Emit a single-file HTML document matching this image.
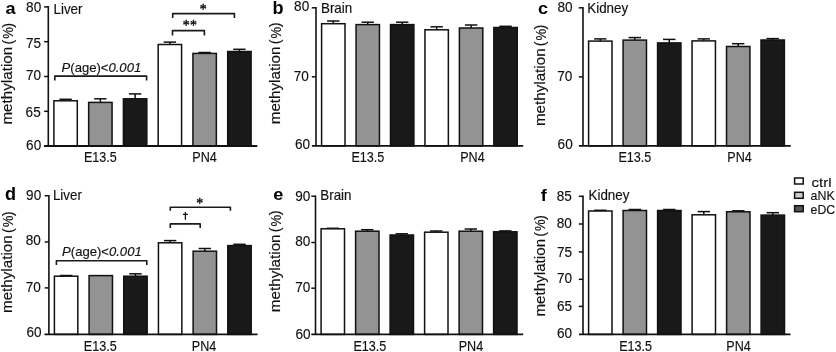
<!DOCTYPE html><html><head><meta charset="utf-8"><style>
html,body{margin:0;padding:0;background:#fff;width:836px;height:352px;overflow:hidden}
svg{display:block;will-change:transform}
text{font-family:"Liberation Sans", sans-serif;fill:#111;stroke:#111;stroke-width:0.15px}
.pl{stroke:none}
.tk{font-size:14.00px;text-anchor:end}
.tt{font-size:13.80px}
.gl{font-size:14.00px;text-anchor:middle}
.pl{font-size:17.40px;font-weight:bold;fill:#000}
.yl{font-size:14.80px;text-anchor:middle}
.st{font-size:13px;text-anchor:middle}
</style></head><body>
<svg width="836" height="352" viewBox="0 0 836 352">
<line x1="65.60" y1="99.30" x2="65.60" y2="100.80" stroke="#111" stroke-width="1.5"/>
<line x1="59.40" y1="99.30" x2="71.80" y2="99.30" stroke="#111" stroke-width="1.5"/>
<rect x="53.90" y="100.80" width="23.40" height="45.20" fill="#ffffff" stroke="#111" stroke-width="1.50"/>
<line x1="100.36" y1="98.80" x2="100.36" y2="102.40" stroke="#111" stroke-width="1.5"/>
<line x1="94.16" y1="98.80" x2="106.56" y2="98.80" stroke="#111" stroke-width="1.5"/>
<rect x="88.66" y="102.40" width="23.40" height="43.60" fill="#939393" stroke="#111" stroke-width="1.50"/>
<line x1="135.12" y1="93.90" x2="135.12" y2="98.80" stroke="#111" stroke-width="1.5"/>
<line x1="128.92" y1="93.90" x2="141.32" y2="93.90" stroke="#111" stroke-width="1.5"/>
<rect x="123.42" y="98.80" width="23.40" height="47.20" fill="#191919" stroke="#111" stroke-width="1.50"/>
<line x1="169.88" y1="42.10" x2="169.88" y2="44.50" stroke="#111" stroke-width="1.5"/>
<line x1="163.68" y1="42.10" x2="176.08" y2="42.10" stroke="#111" stroke-width="1.5"/>
<rect x="158.18" y="44.50" width="23.40" height="101.50" fill="#ffffff" stroke="#111" stroke-width="1.50"/>
<line x1="204.64" y1="52.50" x2="204.64" y2="53.40" stroke="#111" stroke-width="1.5"/>
<line x1="198.44" y1="52.50" x2="210.84" y2="52.50" stroke="#111" stroke-width="1.5"/>
<rect x="192.94" y="53.40" width="23.40" height="92.60" fill="#939393" stroke="#111" stroke-width="1.50"/>
<line x1="239.40" y1="49.30" x2="239.40" y2="51.50" stroke="#111" stroke-width="1.5"/>
<line x1="233.20" y1="49.30" x2="245.60" y2="49.30" stroke="#111" stroke-width="1.5"/>
<rect x="227.70" y="51.50" width="23.40" height="94.50" fill="#191919" stroke="#111" stroke-width="1.50"/>
<line x1="48.30" y1="6.15" x2="48.30" y2="146.00" stroke="#111" stroke-width="1.60"/>
<line x1="44.10" y1="6.90" x2="48.30" y2="6.90" stroke="#111" stroke-width="1.5"/>
<text class="tk" transform="translate(41.20 12.10) scale(0.970 1)">80</text>
<line x1="44.10" y1="41.70" x2="48.30" y2="41.70" stroke="#111" stroke-width="1.5"/>
<text class="tk" transform="translate(41.00 47.90) scale(0.970 1)">75</text>
<line x1="44.10" y1="76.50" x2="48.30" y2="76.50" stroke="#111" stroke-width="1.5"/>
<text class="tk" transform="translate(41.00 79.80) scale(0.970 1)">70</text>
<line x1="44.10" y1="111.30" x2="48.30" y2="111.30" stroke="#111" stroke-width="1.5"/>
<text class="tk" transform="translate(40.70 116.50) scale(0.970 1)">65</text>
<text class="tk" transform="translate(41.20 150.10) scale(0.970 1)">60</text>
<line x1="44.00" y1="146.00" x2="257.30" y2="146.00" stroke="#111" stroke-width="1.90"/>
<text class="gl" transform="translate(100.40 162.20) scale(0.900 1)">E13.5</text>
<text class="gl" transform="translate(204.50 162.20) scale(0.900 1)">PN4</text>
<text class="tt" transform="translate(53.50 13.60) scale(0.970 1)">Liver</text>
<text class="pl" transform="translate(5.50 13.60) scale(1.040 1.000)">a</text>
<text style="font-size:14.40px;text-anchor:middle" transform="translate(12.10 85.70) rotate(-90) scale(1.056 1)">methylation</text>
<text style="font-size:14.70px;text-anchor:middle" transform="translate(12.50 42.10) rotate(-90) scale(1.000 1)">(</text>
<text style="font-size:14.50px;text-anchor:middle" transform="translate(12.80 33.00) rotate(-90) scale(0.900 1)">%</text>
<text style="font-size:14.70px;text-anchor:middle" transform="translate(12.50 25.30) rotate(-90) scale(1.000 1)">)</text>
<line x1="333.30" y1="21.00" x2="333.30" y2="23.70" stroke="#111" stroke-width="1.5"/>
<line x1="327.10" y1="21.00" x2="339.50" y2="21.00" stroke="#111" stroke-width="1.5"/>
<rect x="321.60" y="23.70" width="23.40" height="122.20" fill="#ffffff" stroke="#111" stroke-width="1.50"/>
<line x1="367.75" y1="22.20" x2="367.75" y2="24.60" stroke="#111" stroke-width="1.5"/>
<line x1="361.55" y1="22.20" x2="373.95" y2="22.20" stroke="#111" stroke-width="1.5"/>
<rect x="356.05" y="24.60" width="23.40" height="121.30" fill="#939393" stroke="#111" stroke-width="1.50"/>
<line x1="402.20" y1="22.20" x2="402.20" y2="24.60" stroke="#111" stroke-width="1.5"/>
<line x1="396.00" y1="22.20" x2="408.40" y2="22.20" stroke="#111" stroke-width="1.5"/>
<rect x="390.50" y="24.60" width="23.40" height="121.30" fill="#191919" stroke="#111" stroke-width="1.50"/>
<line x1="436.65" y1="26.80" x2="436.65" y2="29.80" stroke="#111" stroke-width="1.5"/>
<line x1="430.45" y1="26.80" x2="442.85" y2="26.80" stroke="#111" stroke-width="1.5"/>
<rect x="424.95" y="29.80" width="23.40" height="116.10" fill="#ffffff" stroke="#111" stroke-width="1.50"/>
<line x1="471.10" y1="25.00" x2="471.10" y2="28.00" stroke="#111" stroke-width="1.5"/>
<line x1="464.90" y1="25.00" x2="477.30" y2="25.00" stroke="#111" stroke-width="1.5"/>
<rect x="459.40" y="28.00" width="23.40" height="117.90" fill="#939393" stroke="#111" stroke-width="1.50"/>
<line x1="505.55" y1="26.30" x2="505.55" y2="27.50" stroke="#111" stroke-width="1.5"/>
<line x1="499.35" y1="26.30" x2="511.75" y2="26.30" stroke="#111" stroke-width="1.5"/>
<rect x="493.85" y="27.50" width="23.40" height="118.40" fill="#191919" stroke="#111" stroke-width="1.50"/>
<line x1="316.00" y1="7.05" x2="316.00" y2="145.90" stroke="#111" stroke-width="1.60"/>
<line x1="311.80" y1="7.80" x2="316.00" y2="7.80" stroke="#111" stroke-width="1.5"/>
<text class="tk" transform="translate(309.20 11.40) scale(0.970 1)">80</text>
<line x1="311.80" y1="76.80" x2="316.00" y2="76.80" stroke="#111" stroke-width="1.5"/>
<text class="tk" transform="translate(308.90 81.05) scale(0.970 1)">70</text>
<text class="tk" transform="translate(310.10 149.05) scale(0.970 1)">60</text>
<line x1="311.90" y1="145.90" x2="523.20" y2="145.90" stroke="#111" stroke-width="1.90"/>
<text class="gl" transform="translate(367.90 162.20) scale(0.900 1)">E13.5</text>
<text class="gl" transform="translate(472.40 162.20) scale(0.900 1)">PN4</text>
<text class="tt" transform="translate(321.00 13.10) scale(0.970 1)">Brain</text>
<text class="pl" transform="translate(272.60 13.60) scale(1.040 1.070)">b</text>
<text style="font-size:14.40px;text-anchor:middle" transform="translate(279.90 85.42) rotate(-90) scale(1.056 1)">methylation</text>
<text style="font-size:14.70px;text-anchor:middle" transform="translate(280.30 41.70) rotate(-90) scale(1.000 1)">(</text>
<text style="font-size:14.50px;text-anchor:middle" transform="translate(280.60 32.60) rotate(-90) scale(0.900 1)">%</text>
<text style="font-size:14.70px;text-anchor:middle" transform="translate(280.30 24.90) rotate(-90) scale(1.000 1)">)</text>
<line x1="600.30" y1="38.90" x2="600.30" y2="41.10" stroke="#111" stroke-width="1.5"/>
<line x1="594.10" y1="38.90" x2="606.50" y2="38.90" stroke="#111" stroke-width="1.5"/>
<rect x="588.60" y="41.10" width="23.40" height="104.80" fill="#ffffff" stroke="#111" stroke-width="1.50"/>
<line x1="634.78" y1="37.60" x2="634.78" y2="40.10" stroke="#111" stroke-width="1.5"/>
<line x1="628.58" y1="37.60" x2="640.98" y2="37.60" stroke="#111" stroke-width="1.5"/>
<rect x="623.08" y="40.10" width="23.40" height="105.80" fill="#939393" stroke="#111" stroke-width="1.50"/>
<line x1="669.26" y1="39.40" x2="669.26" y2="42.90" stroke="#111" stroke-width="1.5"/>
<line x1="663.06" y1="39.40" x2="675.46" y2="39.40" stroke="#111" stroke-width="1.5"/>
<rect x="657.56" y="42.90" width="23.40" height="103.00" fill="#191919" stroke="#111" stroke-width="1.50"/>
<line x1="703.74" y1="38.90" x2="703.74" y2="40.90" stroke="#111" stroke-width="1.5"/>
<line x1="697.54" y1="38.90" x2="709.94" y2="38.90" stroke="#111" stroke-width="1.5"/>
<rect x="692.04" y="40.90" width="23.40" height="105.00" fill="#ffffff" stroke="#111" stroke-width="1.50"/>
<line x1="738.22" y1="43.70" x2="738.22" y2="46.50" stroke="#111" stroke-width="1.5"/>
<line x1="732.02" y1="43.70" x2="744.42" y2="43.70" stroke="#111" stroke-width="1.5"/>
<rect x="726.52" y="46.50" width="23.40" height="99.40" fill="#939393" stroke="#111" stroke-width="1.50"/>
<line x1="772.70" y1="38.60" x2="772.70" y2="40.00" stroke="#111" stroke-width="1.5"/>
<line x1="766.50" y1="38.60" x2="778.90" y2="38.60" stroke="#111" stroke-width="1.5"/>
<rect x="761.00" y="40.00" width="23.40" height="105.90" fill="#191919" stroke="#111" stroke-width="1.50"/>
<line x1="583.00" y1="7.05" x2="583.00" y2="145.90" stroke="#111" stroke-width="1.60"/>
<line x1="578.80" y1="7.80" x2="583.00" y2="7.80" stroke="#111" stroke-width="1.5"/>
<text class="tk" transform="translate(572.50 12.00) scale(0.970 1)">80</text>
<line x1="578.80" y1="76.90" x2="583.00" y2="76.90" stroke="#111" stroke-width="1.5"/>
<text class="tk" transform="translate(572.30 81.00) scale(0.970 1)">70</text>
<text class="tk" transform="translate(572.70 148.90) scale(0.970 1)">60</text>
<line x1="578.90" y1="145.90" x2="790.80" y2="145.90" stroke="#111" stroke-width="1.90"/>
<text class="gl" transform="translate(634.90 162.20) scale(0.900 1)">E13.5</text>
<text class="gl" transform="translate(739.60 162.20) scale(0.900 1)">PN4</text>
<text class="tt" transform="translate(587.30 12.95) scale(0.970 1)">Kidney</text>
<text class="pl" transform="translate(538.00 13.60) scale(1.040 1.000)">c</text>
<text style="font-size:14.40px;text-anchor:middle" transform="translate(544.80 87.28) rotate(-90) scale(1.056 1)">methylation</text>
<text style="font-size:14.70px;text-anchor:middle" transform="translate(545.20 43.80) rotate(-90) scale(1.000 1)">(</text>
<text style="font-size:14.50px;text-anchor:middle" transform="translate(545.50 34.70) rotate(-90) scale(0.900 1)">%</text>
<text style="font-size:14.70px;text-anchor:middle" transform="translate(545.20 27.00) rotate(-90) scale(1.000 1)">)</text>
<line x1="66.10" y1="275.50" x2="66.10" y2="276.20" stroke="#111" stroke-width="1.5"/>
<line x1="59.90" y1="275.50" x2="72.30" y2="275.50" stroke="#111" stroke-width="1.5"/>
<rect x="54.40" y="276.20" width="23.40" height="58.20" fill="#ffffff" stroke="#111" stroke-width="1.50"/>
<rect x="89.08" y="275.60" width="23.40" height="58.80" fill="#939393" stroke="#111" stroke-width="1.50"/>
<line x1="135.46" y1="273.80" x2="135.46" y2="276.20" stroke="#111" stroke-width="1.5"/>
<line x1="129.26" y1="273.80" x2="141.66" y2="273.80" stroke="#111" stroke-width="1.5"/>
<rect x="123.76" y="276.20" width="23.40" height="58.20" fill="#191919" stroke="#111" stroke-width="1.50"/>
<line x1="170.14" y1="240.60" x2="170.14" y2="242.80" stroke="#111" stroke-width="1.5"/>
<line x1="163.94" y1="240.60" x2="176.34" y2="240.60" stroke="#111" stroke-width="1.5"/>
<rect x="158.44" y="242.80" width="23.40" height="91.60" fill="#ffffff" stroke="#111" stroke-width="1.50"/>
<line x1="204.82" y1="248.50" x2="204.82" y2="251.20" stroke="#111" stroke-width="1.5"/>
<line x1="198.62" y1="248.50" x2="211.02" y2="248.50" stroke="#111" stroke-width="1.5"/>
<rect x="193.12" y="251.20" width="23.40" height="83.20" fill="#939393" stroke="#111" stroke-width="1.50"/>
<line x1="239.50" y1="244.30" x2="239.50" y2="245.60" stroke="#111" stroke-width="1.5"/>
<line x1="233.30" y1="244.30" x2="245.70" y2="244.30" stroke="#111" stroke-width="1.5"/>
<rect x="227.80" y="245.60" width="23.40" height="88.80" fill="#191919" stroke="#111" stroke-width="1.50"/>
<line x1="48.90" y1="194.95" x2="48.90" y2="334.40" stroke="#111" stroke-width="1.60"/>
<line x1="44.70" y1="195.70" x2="48.90" y2="195.70" stroke="#111" stroke-width="1.5"/>
<text class="tk" transform="translate(41.20 200.45) scale(0.970 1)">90</text>
<line x1="44.70" y1="242.00" x2="48.90" y2="242.00" stroke="#111" stroke-width="1.5"/>
<text class="tk" transform="translate(40.90 245.00) scale(0.970 1)">80</text>
<line x1="44.70" y1="287.90" x2="48.90" y2="287.90" stroke="#111" stroke-width="1.5"/>
<text class="tk" transform="translate(40.90 291.50) scale(0.970 1)">70</text>
<text class="tk" transform="translate(41.50 337.00) scale(0.970 1)">60</text>
<line x1="44.50" y1="334.40" x2="257.60" y2="334.40" stroke="#111" stroke-width="1.90"/>
<text class="gl" transform="translate(100.30 350.60) scale(0.900 1)">E13.5</text>
<text class="gl" transform="translate(204.10 350.60) scale(0.900 1)">PN4</text>
<text class="tt" transform="translate(52.90 200.20) scale(0.970 1)">Liver</text>
<text class="pl" transform="translate(4.90 200.40) scale(1.040 1.030)">d</text>
<text style="font-size:14.40px;text-anchor:middle" transform="translate(12.40 274.16) rotate(-90) scale(1.056 1)">methylation</text>
<text style="font-size:14.70px;text-anchor:middle" transform="translate(12.80 230.50) rotate(-90) scale(1.000 1)">(</text>
<text style="font-size:14.50px;text-anchor:middle" transform="translate(13.10 221.40) rotate(-90) scale(0.900 1)">%</text>
<text style="font-size:14.70px;text-anchor:middle" transform="translate(12.80 213.70) rotate(-90) scale(1.000 1)">)</text>
<line x1="332.80" y1="228.30" x2="332.80" y2="228.80" stroke="#111" stroke-width="1.5"/>
<line x1="326.60" y1="228.30" x2="339.00" y2="228.30" stroke="#111" stroke-width="1.5"/>
<rect x="321.10" y="228.80" width="23.40" height="105.60" fill="#ffffff" stroke="#111" stroke-width="1.50"/>
<line x1="367.30" y1="229.70" x2="367.30" y2="231.20" stroke="#111" stroke-width="1.5"/>
<line x1="361.10" y1="229.70" x2="373.50" y2="229.70" stroke="#111" stroke-width="1.5"/>
<rect x="355.60" y="231.20" width="23.40" height="103.20" fill="#939393" stroke="#111" stroke-width="1.50"/>
<line x1="401.80" y1="233.80" x2="401.80" y2="235.00" stroke="#111" stroke-width="1.5"/>
<line x1="395.60" y1="233.80" x2="408.00" y2="233.80" stroke="#111" stroke-width="1.5"/>
<rect x="390.10" y="235.00" width="23.40" height="99.40" fill="#191919" stroke="#111" stroke-width="1.50"/>
<line x1="436.30" y1="231.00" x2="436.30" y2="232.20" stroke="#111" stroke-width="1.5"/>
<line x1="430.10" y1="231.00" x2="442.50" y2="231.00" stroke="#111" stroke-width="1.5"/>
<rect x="424.60" y="232.20" width="23.40" height="102.20" fill="#ffffff" stroke="#111" stroke-width="1.50"/>
<line x1="470.80" y1="229.00" x2="470.80" y2="231.20" stroke="#111" stroke-width="1.5"/>
<line x1="464.60" y1="229.00" x2="477.00" y2="229.00" stroke="#111" stroke-width="1.5"/>
<rect x="459.10" y="231.20" width="23.40" height="103.20" fill="#939393" stroke="#111" stroke-width="1.50"/>
<line x1="505.30" y1="230.90" x2="505.30" y2="231.80" stroke="#111" stroke-width="1.5"/>
<line x1="499.10" y1="230.90" x2="511.50" y2="230.90" stroke="#111" stroke-width="1.5"/>
<rect x="493.60" y="231.80" width="23.40" height="102.60" fill="#191919" stroke="#111" stroke-width="1.50"/>
<line x1="315.50" y1="195.45" x2="315.50" y2="334.40" stroke="#111" stroke-width="1.60"/>
<line x1="311.30" y1="196.20" x2="315.50" y2="196.20" stroke="#111" stroke-width="1.5"/>
<text class="tk" transform="translate(310.30 200.75) scale(0.970 1)">90</text>
<line x1="311.30" y1="242.50" x2="315.50" y2="242.50" stroke="#111" stroke-width="1.5"/>
<text class="tk" transform="translate(310.30 245.70) scale(0.970 1)">80</text>
<line x1="311.30" y1="288.20" x2="315.50" y2="288.20" stroke="#111" stroke-width="1.5"/>
<text class="tk" transform="translate(310.30 292.15) scale(0.970 1)">70</text>
<text class="tk" transform="translate(310.60 338.75) scale(0.970 1)">60</text>
<line x1="311.30" y1="334.40" x2="523.20" y2="334.40" stroke="#111" stroke-width="1.90"/>
<text class="gl" transform="translate(369.90 350.60) scale(0.900 1)">E13.5</text>
<text class="gl" transform="translate(470.90 350.60) scale(0.900 1)">PN4</text>
<text class="tt" transform="translate(320.30 200.40) scale(0.970 1)">Brain</text>
<text class="pl" transform="translate(273.20 199.90) scale(1.040 1.000)">e</text>
<text style="font-size:14.40px;text-anchor:middle" transform="translate(280.00 273.30) rotate(-90) scale(1.056 1)">methylation</text>
<text style="font-size:14.70px;text-anchor:middle" transform="translate(280.40 229.70) rotate(-90) scale(1.000 1)">(</text>
<text style="font-size:14.50px;text-anchor:middle" transform="translate(280.70 220.60) rotate(-90) scale(0.900 1)">%</text>
<text style="font-size:14.70px;text-anchor:middle" transform="translate(280.40 212.90) rotate(-90) scale(1.000 1)">)</text>
<line x1="600.30" y1="210.30" x2="600.30" y2="211.00" stroke="#111" stroke-width="1.5"/>
<line x1="594.10" y1="210.30" x2="606.50" y2="210.30" stroke="#111" stroke-width="1.5"/>
<rect x="588.60" y="211.00" width="23.40" height="123.40" fill="#ffffff" stroke="#111" stroke-width="1.50"/>
<line x1="634.80" y1="209.50" x2="634.80" y2="210.50" stroke="#111" stroke-width="1.5"/>
<line x1="628.60" y1="209.50" x2="641.00" y2="209.50" stroke="#111" stroke-width="1.5"/>
<rect x="623.10" y="210.50" width="23.40" height="123.90" fill="#939393" stroke="#111" stroke-width="1.50"/>
<line x1="669.30" y1="209.50" x2="669.30" y2="210.50" stroke="#111" stroke-width="1.5"/>
<line x1="663.10" y1="209.50" x2="675.50" y2="209.50" stroke="#111" stroke-width="1.5"/>
<rect x="657.60" y="210.50" width="23.40" height="123.90" fill="#191919" stroke="#111" stroke-width="1.50"/>
<line x1="703.80" y1="211.60" x2="703.80" y2="214.80" stroke="#111" stroke-width="1.5"/>
<line x1="697.60" y1="211.60" x2="710.00" y2="211.60" stroke="#111" stroke-width="1.5"/>
<rect x="692.10" y="214.80" width="23.40" height="119.60" fill="#ffffff" stroke="#111" stroke-width="1.50"/>
<line x1="738.30" y1="210.80" x2="738.30" y2="211.80" stroke="#111" stroke-width="1.5"/>
<line x1="732.10" y1="210.80" x2="744.50" y2="210.80" stroke="#111" stroke-width="1.5"/>
<rect x="726.60" y="211.80" width="23.40" height="122.60" fill="#939393" stroke="#111" stroke-width="1.50"/>
<line x1="772.80" y1="212.70" x2="772.80" y2="215.10" stroke="#111" stroke-width="1.5"/>
<line x1="766.60" y1="212.70" x2="779.00" y2="212.70" stroke="#111" stroke-width="1.5"/>
<rect x="761.10" y="215.10" width="23.40" height="119.30" fill="#191919" stroke="#111" stroke-width="1.50"/>
<line x1="583.00" y1="195.55" x2="583.00" y2="334.40" stroke="#111" stroke-width="1.60"/>
<line x1="578.80" y1="196.30" x2="583.00" y2="196.30" stroke="#111" stroke-width="1.5"/>
<text class="tk" transform="translate(571.80 201.05) scale(0.970 1)">85</text>
<line x1="578.80" y1="224.00" x2="583.00" y2="224.00" stroke="#111" stroke-width="1.5"/>
<text class="tk" transform="translate(571.80 227.80) scale(0.970 1)">80</text>
<line x1="578.80" y1="251.90" x2="583.00" y2="251.90" stroke="#111" stroke-width="1.5"/>
<text class="tk" transform="translate(572.10 256.90) scale(0.970 1)">75</text>
<line x1="578.80" y1="279.30" x2="583.00" y2="279.30" stroke="#111" stroke-width="1.5"/>
<text class="tk" transform="translate(572.10 283.35) scale(0.970 1)">70</text>
<line x1="578.80" y1="306.40" x2="583.00" y2="306.40" stroke="#111" stroke-width="1.5"/>
<text class="tk" transform="translate(572.10 311.00) scale(0.970 1)">65</text>
<text class="tk" transform="translate(572.10 337.80) scale(0.970 1)">60</text>
<line x1="579.00" y1="334.40" x2="790.50" y2="334.40" stroke="#111" stroke-width="1.90"/>
<text class="gl" transform="translate(635.60 350.60) scale(0.900 1)">E13.5</text>
<text class="gl" transform="translate(738.60 350.60) scale(0.900 1)">PN4</text>
<text class="tt" transform="translate(588.50 199.85) scale(0.970 1)">Kidney</text>
<text class="pl" transform="translate(540.80 200.60) scale(1.040 1.000)">f</text>
<text style="font-size:14.40px;text-anchor:middle" transform="translate(544.70 277.75) rotate(-90) scale(1.056 1)">methylation</text>
<text style="font-size:14.70px;text-anchor:middle" transform="translate(545.10 234.40) rotate(-90) scale(1.000 1)">(</text>
<text style="font-size:14.50px;text-anchor:middle" transform="translate(545.40 225.30) rotate(-90) scale(0.900 1)">%</text>
<text style="font-size:14.70px;text-anchor:middle" transform="translate(545.10 217.60) rotate(-90) scale(1.000 1)">)</text>
<path d="M54.80 80.60 L54.80 76.10 L146.60 76.10 L146.60 80.60" fill="none" stroke="#1a1a1a" stroke-width="1.6" stroke-linejoin="round"/>
<text class="tt" style="font-size:13.60px" transform="translate(61.60 71.60) scale(0.962 1)"><tspan font-style="italic">P</tspan>(age)&lt;<tspan font-style="italic">0.001</tspan></text>
<path d="M172.70 18.00 L172.70 13.60 L234.40 13.60 L234.40 18.00" fill="none" stroke="#1a1a1a" stroke-width="1.6" stroke-linejoin="round"/>
<text x="203.20" y="14.05" style="font-family:&quot;Liberation Serif&quot;,serif;font-size:13.80px;text-anchor:middle;stroke:#111;stroke-width:0.45px">*</text>
<path d="M172.50 35.60 L172.50 30.60 L204.40 30.60 L204.40 35.60" fill="none" stroke="#1a1a1a" stroke-width="1.6" stroke-linejoin="round"/>
<text x="186.10" y="29.66" style="font-family:&quot;Liberation Serif&quot;,serif;font-size:13.80px;text-anchor:middle;stroke:#111;stroke-width:0.45px">*</text>
<text x="193.40" y="29.66" style="font-family:&quot;Liberation Serif&quot;,serif;font-size:13.80px;text-anchor:middle;stroke:#111;stroke-width:0.45px">*</text>
<path d="M56.40 265.00 L56.40 260.70 L146.80 260.70 L146.80 265.00" fill="none" stroke="#1a1a1a" stroke-width="1.6" stroke-linejoin="round"/>
<text class="tt" style="font-size:13.60px" transform="translate(62.10 255.60) scale(0.962 1)"><tspan font-style="italic">P</tspan>(age)&lt;<tspan font-style="italic">0.001</tspan></text>
<path d="M170.30 210.80 L170.30 207.30 L230.40 207.30 L230.40 210.80" fill="none" stroke="#1a1a1a" stroke-width="1.6" stroke-linejoin="round"/>
<text x="199.70" y="208.36" style="font-family:&quot;Liberation Serif&quot;,serif;font-size:13.80px;text-anchor:middle;stroke:#111;stroke-width:0.45px">*</text>
<path d="M170.30 228.00 L170.30 223.90 L200.20 223.90 L200.20 228.00" fill="none" stroke="#1a1a1a" stroke-width="1.6" stroke-linejoin="round"/>
<path d="M185.40 211.90 L185.40 219.70 M182.90 214.40 L187.90 214.40" stroke="#111" stroke-width="1.3" fill="none"/>
<rect x="794.6" y="178.00" width="8.6" height="6.0" fill="#ffffff" stroke="#111" stroke-width="1.5"/>
<rect x="794.6" y="192.30" width="8.6" height="6.0" fill="#cccccc" stroke="#111" stroke-width="1.5"/>
<rect x="794.6" y="205.70" width="8.6" height="6.0" fill="#555555" stroke="#111" stroke-width="1.5"/>
<text transform="translate(811.60 186.90) scale(1.100 1)" style="font-size:13.60px">ctrl</text>
<text transform="translate(810.60 200.20) scale(0.955 1)" style="font-size:13.00px">aNK</text>
<text transform="translate(810.60 214.10) scale(0.945 1)" style="font-size:13.00px">eDC</text>
</svg></body></html>
